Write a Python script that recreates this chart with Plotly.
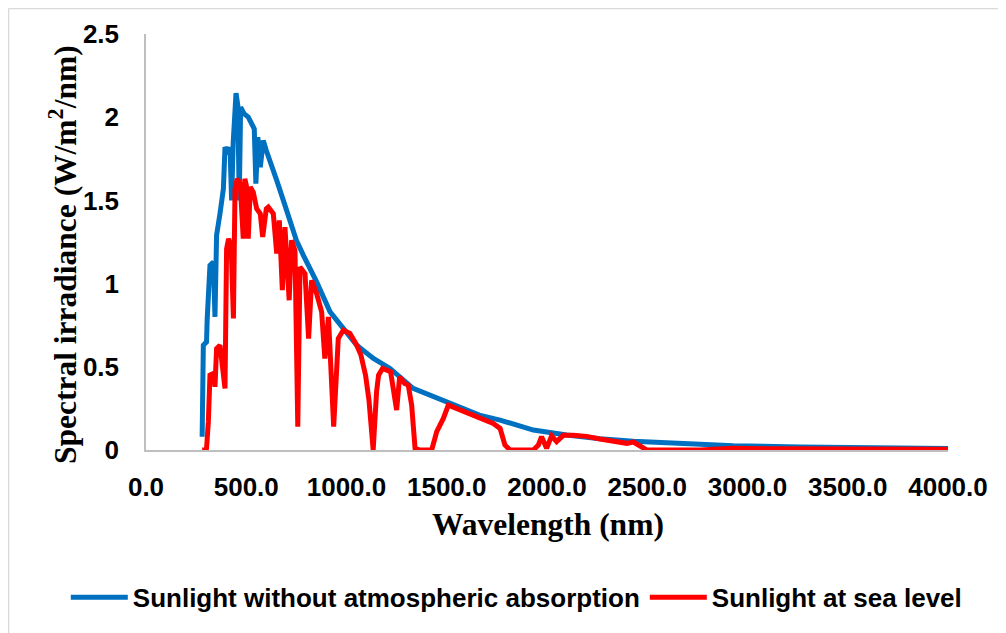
import plotly.graph_objects as go

# Wavelength (nm) and spectral irradiance (W/m2/nm)
am0_wavelength = [280, 283, 286, 302, 305, 319, 336, 344, 352, 369, 386, 394, 410, 419, 427, 435,
                  449, 458, 465, 472, 490, 510, 525, 540, 548, 558, 570, 585, 600, 625, 652, 685,
                  718, 750, 785, 851, 918, 984, 1051, 1134, 1217, 1332, 1500, 1663, 1766, 1932,
                  2098, 2264, 2431, 2597, 2930, 3262, 3600, 4000]
am0_irradiance = [0.08, 0.37, 0.63, 0.65, 0.78, 1.11, 1.13, 0.80, 1.29, 1.42, 1.57, 1.82, 1.78, 1.82, 1.50, 1.85,
                  2.145, 2.07, 1.50, 2.06, 2.02, 2.00, 1.96, 1.93, 1.60, 1.88, 1.70, 1.86, 1.80, 1.72, 1.62, 1.50,
                  1.365, 1.26, 1.17, 1.01, 0.83, 0.73, 0.63, 0.55, 0.49, 0.37, 0.29, 0.21, 0.18, 0.12,
                  0.09, 0.067, 0.052, 0.042, 0.026, 0.018, 0.012, 0.009]

sea_wavelength = [280, 295, 302, 311, 319, 336, 344, 352, 369, 380, 394, 402, 412, 425, 436, 444,
                  455, 470, 485, 493, 502, 510, 520, 535, 552, 570, 582, 600, 610, 635, 652, 665,
                  680, 693, 714, 726, 743, 757, 768, 793, 811, 826, 851, 876, 892, 910, 936, 959,
                  984, 1017, 1051, 1072, 1095, 1112, 1133, 1150, 1160, 1180, 1220, 1250, 1265, 1290,
                  1308, 1325, 1342, 1366, 1425, 1450, 1483, 1508, 1550, 1599, 1666, 1732, 1766, 1790,
                  1816, 1932, 1957, 1973, 1998, 2023, 2048, 2081, 2131, 2198, 2264, 2331, 2398, 2431,
                  2464, 2497, 2763, 2930, 3096, 3180, 3262, 3500, 3750, 4000]
sea_irradiance = [0.0, 0.0, 0.01, 0.17, 0.45, 0.46, 0.38, 0.61, 0.63, 0.53, 0.37, 1.21, 1.27, 1.22, 0.79, 1.57,
                  1.63, 1.60, 1.27, 1.63, 1.58, 1.27, 1.58, 1.55, 1.45, 1.42, 1.28, 1.45, 1.46, 1.42, 1.18, 1.38,
                  0.96, 1.34, 0.90, 1.26, 1.20, 0.14, 1.10, 1.06, 0.67, 1.02, 0.94, 0.83, 0.55, 0.80, 0.14, 0.67,
                  0.72, 0.70, 0.63, 0.57, 0.45, 0.30, 0.0, 0.35, 0.45, 0.49, 0.47, 0.24, 0.44, 0.40,
                  0.39, 0.27, 0.01, 0.0, 0.0, 0.11, 0.19, 0.27, 0.25, 0.22, 0.19, 0.16, 0.13, 0.03,
                  0.0, 0.0, 0.03, 0.08, 0.01, 0.085, 0.05, 0.088, 0.088, 0.082, 0.066, 0.054, 0.04, 0.048,
                  0.02, 0.0, 0.0, 0.01, 0.008, 0.01, 0.008, 0.006, 0.006, 0.005]

x_ticks = [0, 500, 1000, 1500, 2000, 2500, 3000, 3500, 4000]
x_tick_labels = ["0.0", "500.0", "1000.0", "1500.0", "2000.0", "2500.0", "3000.0", "3500.0", "4000.0"]
y_ticks = [0, 0.5, 1, 1.5, 2, 2.5]
y_tick_labels = ["0", "0.5", "1", "1.5", "2", "2.5"]

SANS = "Arial, 'Liberation Sans', sans-serif"
SERIF = "'Times New Roman', 'Liberation Serif', serif"

fig = go.Figure()
fig.add_trace(go.Scatter(x=am0_wavelength, y=am0_irradiance, mode="lines",
                         name="Sunlight without atmospheric absorption",
                         line=dict(color="#0070C0", width=5)))
fig.add_trace(go.Scatter(x=sea_wavelength, y=sea_irradiance, mode="lines",
                         name="Sunlight at sea level",
                         line=dict(color="#FF0000", width=5)))

axis_common = dict(showgrid=False, zeroline=False, showline=True, linecolor="#BFBFBF", linewidth=1.5,
                   ticks="outside", tickcolor="rgba(0,0,0,0)", automargin=False,
                   tickfont=dict(family=SANS, size=26, color="black", weight="bold"))

# the page body adds an 8px offset, so the figure is 8px smaller than the window
fig.update_layout(
    template="none",
    width=998, height=625,
    margin=dict(l=138, r=58, t=26, b=181, pad=0),
    paper_bgcolor="white", plot_bgcolor="white",
    showlegend=True,
    legend=dict(orientation="h", x=-0.1, y=-0.354, xanchor="left", yanchor="middle",
                font=dict(family=SANS, size=26, color="black", weight="bold"),
                itemwidth=57, bgcolor="rgba(0,0,0,0)", borderwidth=0),
    xaxis=dict(range=[0, 4000], tickvals=x_ticks, ticktext=x_tick_labels, ticklen=13, **axis_common),
    yaxis=dict(range=[0, 2.5], tickvals=y_ticks, ticktext=y_tick_labels, ticklen=20, **axis_common),
    annotations=[
        dict(text="<b>Wavelength (nm)</b>", xref="paper", yref="paper", x=0.501, y=-0.179,
             xanchor="center", yanchor="middle", showarrow=False,
             font=dict(family=SERIF, size=31.5, color="black")),
        dict(text="<b>Spectral irradiance (W/m<sup>2</sup>/nm)</b>", xref="paper", yref="paper",
             x=-0.1035, y=0.471, xanchor="center", yanchor="middle", textangle=-90, showarrow=False,
             font=dict(family=SERIF, size=31.5, color="black")),
    ],
    shapes=[
        dict(type="line", xref="paper", yref="paper", x0=-0.1714, x1=1.2, y0=1.061, y1=1.061,
             line=dict(color="#D9D9D9", width=1.5)),
        dict(type="line", xref="paper", yref="paper", x0=-0.1714, x1=-0.1714, y0=1.061, y1=-0.6,
             line=dict(color="#D9D9D9", width=1.5)),
    ],
)

fig.write_html("out.html")
